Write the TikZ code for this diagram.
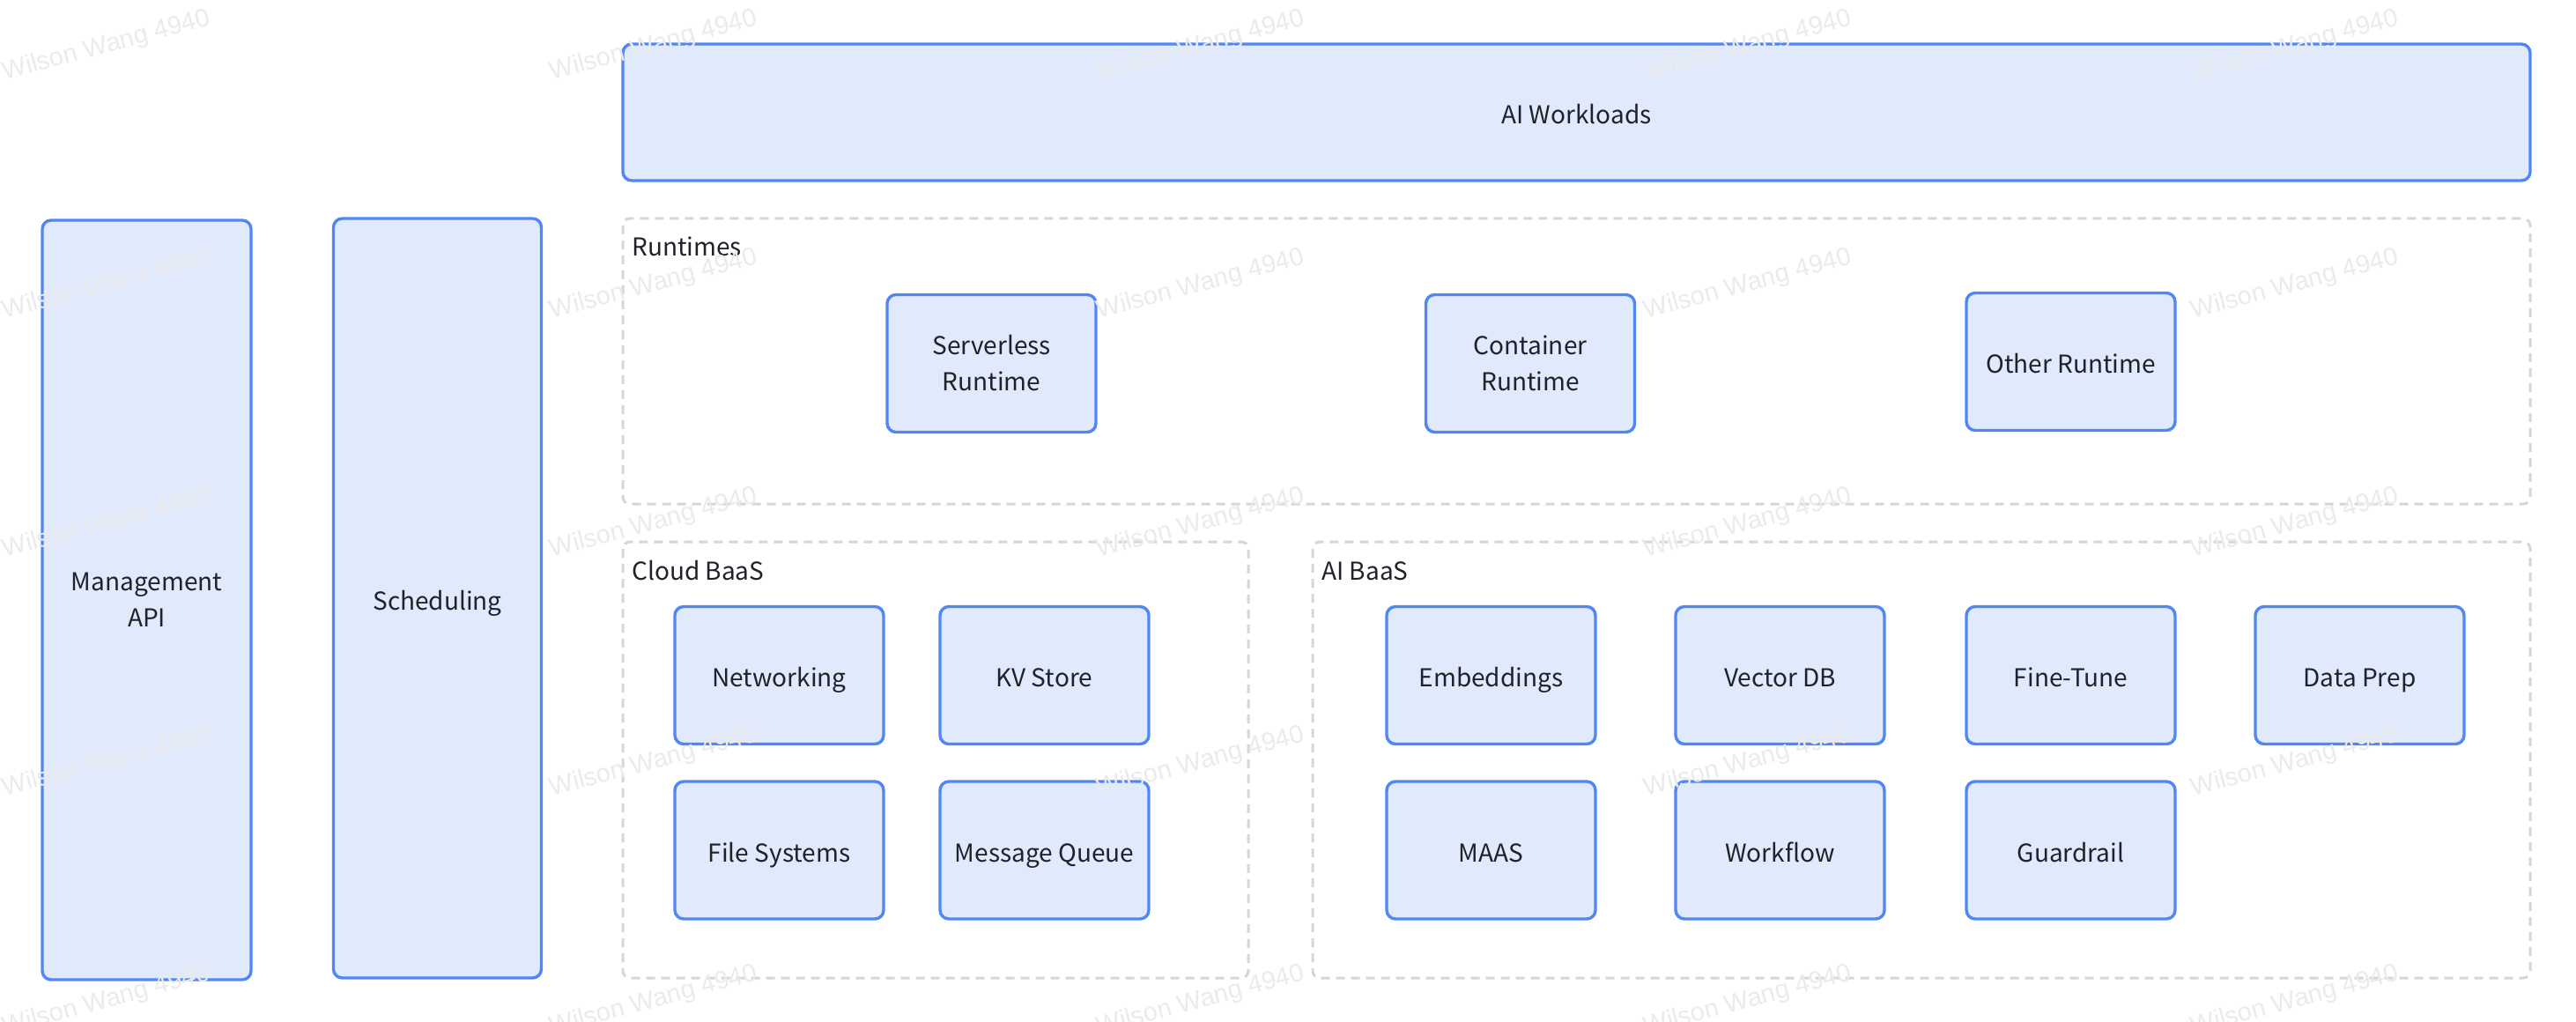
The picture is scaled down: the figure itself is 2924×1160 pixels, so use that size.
\documentclass[tikz,border=0pt]{standalone}
\usepackage{fontspec}
\setmainfont{Noto Sans CJK SC}
\newfontfamily\wmfont{Liberation Sans}
\definecolor{bxline}{HTML}{5087F5}
\definecolor{bxfill}{HTML}{E1E9FC}
\definecolor{dashgray}{HTML}{D6D6D6}
\definecolor{txt}{HTML}{1F2329}
\definecolor{wmcol}{HTML}{EBEBEB}
\tikzset{
  bluebox/.style={draw=bxline, fill=bxfill, line width=1.7pt, rounded corners=5pt,
    align=center, text=txt, font=\fontsize{14}{20.5}\selectfont, inner sep=0pt},
  oneline/.style={text height=15pt, text depth=2pt},
  twoline/.style={yshift=-1pt},
  cell/.style={bluebox, minimum width=118.5pt, minimum height=78pt},
  groupbox/.style={draw=dashgray, line width=1.5pt, dash pattern=on 5pt off 3.5pt, rounded corners=4pt},
  grouplabel/.style={anchor=base west, inner sep=0pt, text=txt, font=\fontsize{14}{20.5}\selectfont},
  wmark/.style={text=wmcol, font=\wmfont\fontsize{14.5}{16}\selectfont, rotate=15, inner sep=0pt}
}
\begin{document}
\begin{tikzpicture}[x=0.5pt,y=-0.5pt]
\useasboundingbox (0,0) rectangle (2924,1160);
\fill[white] (0,0) rectangle (2924,1160);

% group containers
\draw[groupbox] (707,248) rectangle (2872,572);
\draw[groupbox] (707,615) rectangle (1417,1110);
\draw[groupbox] (1490,615) rectangle (2872,1110);
\node[grouplabel] (lblrt) at (717,291) {Runtimes};
\node[grouplabel] (lblcb) at (717,658) {Cloud BaaS};
\node[grouplabel] (lblab) at (1500,658) {AI BaaS};

% top and side bars
\node[bluebox, oneline, minimum width=1082.5pt, minimum height=77.5pt] (aiw) at (1789.5,127.5) {AI Workloads};
\node[bluebox, twoline, minimum width=118.5pt, minimum height=431pt] (mgmt) at (166.5,679) {Management\\API};
\node[bluebox, oneline, minimum width=118pt, minimum height=431pt] (sched) at (496.5,679) {Scheduling};

% runtimes
\node[cell, twoline] (srt) at (1125.5,410.5) {Serverless\\Runtime};
\node[cell, twoline] (crt) at (1737,410.5) {Container\\Runtime};
\node[cell, oneline] (ort) at (2350.5,410.5) {Other Runtime};

% cloud baas
\node[cell, oneline] (net) at (884.5,766.5) {Networking};
\node[cell, oneline] (kv) at (1185.5,766.5) {KV Store};
\node[cell, oneline] (fs) at (884.5,965) {File Systems};
\node[cell, oneline] (mq) at (1185.5,965) {Message Queue};

% ai baas
\node[cell, oneline] (emb) at (1692.5,766.5) {Embeddings};
\node[cell, oneline] (vdb) at (2020.5,766.5) {Vector DB};
\node[cell, oneline] (ft) at (2350.5,766.5) {Fine-Tune};
\node[cell, oneline] (dp) at (2678.5,766.5) {Data Prep};
\node[cell, oneline] (maas) at (1692.5,965) {MAAS};
\node[cell, oneline] (wf) at (2020.5,965) {Workflow};
\node[cell, oneline] (gr) at (2350.5,965) {Guardrail};

% watermark
\foreach \i in {0,...,4}{
  \foreach \j in {0,...,4}{
    \node[wmark] (wm-\i-\j) at (121+621*\i, 52+271*\j) {Wilson Wang 4940};
  }
}
\end{tikzpicture}
\end{document}
